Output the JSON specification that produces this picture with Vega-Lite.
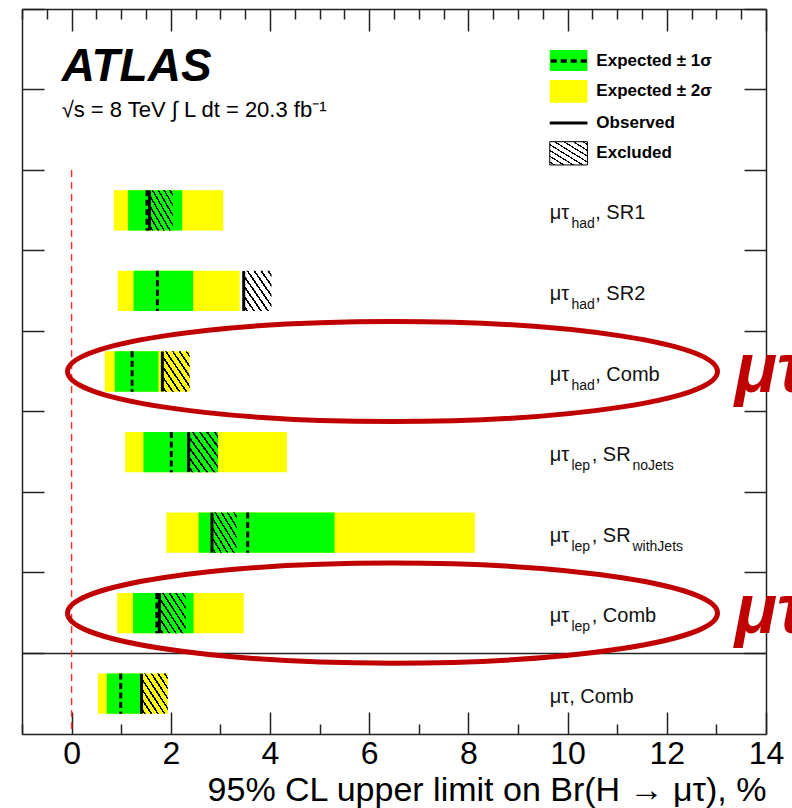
{
  "$schema": "https://vega.github.io/schema/vega-lite/v6.json",
  "width": 744,
  "height": 725,
  "autosize": {"type": "none"},
  "padding": {"left": 22, "top": 9, "right": 26, "bottom": 74},
  "background": "white",
  "config": {
    "font": "Liberation Sans",
    "view": {"stroke": null},
    "axis": {"domainColor": "#222", "domainWidth": 1.5, "tickColor": "#222", "tickWidth": 1.5, "grid": false, "labels": false}
  },
  "data": {
    "values": [
      {"channel": "SR1", "l1": "μτ", "s1": "had", "l2": ", SR1", "s2": "", "lo2": 0.85, "lo1": 1.14, "exp": 1.52, "obs": 1.57, "hi1": 2.23, "hi2": 3.06, "excl": 2.04},
      {"channel": "SR2", "l1": "μτ", "s1": "had", "l2": ", SR2", "s2": "", "lo2": 0.93, "lo1": 1.25, "exp": 1.73, "obs": 3.47, "hi1": 2.45, "hi2": 3.39, "excl": 4.03},
      {"channel": "hadComb", "l1": "μτ", "s1": "had", "l2": ", Comb", "s2": "", "lo2": 0.67, "lo1": 0.87, "exp": 1.22, "obs": 1.83, "hi1": 1.75, "hi2": 2.38, "excl": 2.38},
      {"channel": "noJets", "l1": "μτ", "s1": "lep", "l2": ", SR", "s2": "noJets", "lo2": 1.08, "lo1": 1.45, "exp": 2.01, "obs": 2.36, "hi1": 2.95, "hi2": 4.34, "excl": 2.95},
      {"channel": "withJets", "l1": "μτ", "s1": "lep", "l2": ", SR", "s2": "withJets", "lo2": 1.91, "lo1": 2.56, "exp": 3.55, "obs": 2.83, "hi1": 5.30, "hi2": 8.13, "excl": 3.33},
      {"channel": "lepComb", "l1": "μτ", "s1": "lep", "l2": ", Comb", "s2": "", "lo2": 0.92, "lo1": 1.24, "exp": 1.72, "obs": 1.77, "hi1": 2.46, "hi2": 3.47, "excl": 2.30},
      {"channel": "comb", "l1": "μτ, Comb", "s1": "", "l2": "", "s2": "", "lo2": 0.53, "lo1": 0.71, "exp": 0.99, "obs": 1.41, "hi1": 1.41, "hi2": 1.94, "excl": 1.94}
    ]
  },
  "layer": [
    {
      "layer": [
        {
          "mark": {"type": "bar", "color": "#ffff00", "height": {"band": 0.5}},
          "encoding": {
            "x": {
              "field": "lo2", "type": "quantitative",
              "scale": {"domain": [-1, 14], "nice": false, "zero": false},
              "axis": {
                "orient": "bottom",
                "values": [-1, -0.5, 0, 0.5, 1, 1.5, 2, 2.5, 3, 3.5, 4, 4.5, 5, 5.5, 6, 6.5, 7, 7.5, 8, 8.5, 9, 9.5, 10, 10.5, 11, 11.5, 12, 12.5, 13, 13.5, 14],
                "tickSize": {"condition": {"test": "datum.value % 2 === 0", "value": -22}, "value": -10},
                "labels": true,
                "labelExpr": "datum.value % 2 === 0 ? datum.label : ''",
                "labelFontSize": 32,
                "labelColor": "#000",
                "labelPadding": 26,
                "labelFlush": false,
                "labelOverlap": false,
                "title": "95% CL upper limit on Br(H → μτ), %",
                "titleFontSize": 34,
                "titleFontWeight": "normal",
                "titleColor": "#000",
                "titleAnchor": "end",
                "titleAlign": "right",
                "titleBaseline": "alphabetic",
                "titleY": 66
              }
            },
            "x2": {"field": "hi2"},
            "y": {
              "field": "channel", "type": "nominal",
              "scale": {"domain": ["top1", "top2", "SR1", "SR2", "hadComb", "noJets", "withJets", "lepComb", "comb"], "paddingInner": 0, "paddingOuter": 0},
              "axis": {"orient": "left", "bandPosition": 0, "tickSize": -22, "labels": false, "title": null}
            }
          }
        },
        {
          "mark": {"type": "bar", "color": "#00ff00", "height": {"band": 0.5}},
          "encoding": {
            "x": {"field": "lo1", "type": "quantitative"},
            "x2": {"field": "hi1"},
            "y": {"field": "channel", "type": "nominal"}
          }
        },
        {
          "mark": {
            "type": "bar", "height": {"band": 0.5},
            "fill": {
              "gradient": "linear", "x1": 0, "y1": 1, "x2": 1, "y2": 0,
              "stops": [
                {"offset": 0, "color": "rgba(0,0,0,0)"},
                {"offset": 0.0475, "color": "rgba(0,0,0,0)"}, {"offset": 0.0475, "color": "#000"}, {"offset": 0.0825, "color": "#000"}, {"offset": 0.0825, "color": "rgba(0,0,0,0)"},
                {"offset": 0.1725, "color": "rgba(0,0,0,0)"}, {"offset": 0.1725, "color": "#000"}, {"offset": 0.2075, "color": "#000"}, {"offset": 0.2075, "color": "rgba(0,0,0,0)"},
                {"offset": 0.2975, "color": "rgba(0,0,0,0)"}, {"offset": 0.2975, "color": "#000"}, {"offset": 0.3325, "color": "#000"}, {"offset": 0.3325, "color": "rgba(0,0,0,0)"},
                {"offset": 0.4225, "color": "rgba(0,0,0,0)"}, {"offset": 0.4225, "color": "#000"}, {"offset": 0.4575, "color": "#000"}, {"offset": 0.4575, "color": "rgba(0,0,0,0)"},
                {"offset": 0.5475, "color": "rgba(0,0,0,0)"}, {"offset": 0.5475, "color": "#000"}, {"offset": 0.5825, "color": "#000"}, {"offset": 0.5825, "color": "rgba(0,0,0,0)"},
                {"offset": 0.6725, "color": "rgba(0,0,0,0)"}, {"offset": 0.6725, "color": "#000"}, {"offset": 0.7075, "color": "#000"}, {"offset": 0.7075, "color": "rgba(0,0,0,0)"},
                {"offset": 0.7975, "color": "rgba(0,0,0,0)"}, {"offset": 0.7975, "color": "#000"}, {"offset": 0.8325, "color": "#000"}, {"offset": 0.8325, "color": "rgba(0,0,0,0)"},
                {"offset": 0.9225, "color": "rgba(0,0,0,0)"}, {"offset": 0.9225, "color": "#000"}, {"offset": 0.9575, "color": "#000"}, {"offset": 0.9575, "color": "rgba(0,0,0,0)"},
                {"offset": 1, "color": "rgba(0,0,0,0)"}
              ]
            }
          },
          "encoding": {
            "x": {"field": "obs", "type": "quantitative"},
            "x2": {"field": "excl"},
            "y": {"field": "channel", "type": "nominal"}
          }
        },
        {
          "mark": {"type": "rule", "color": "#000", "strokeWidth": 3, "strokeDash": [6, 3.5], "strokeCap": "butt"},
          "encoding": {
            "x": {"field": "exp", "type": "quantitative"},
            "y": {"field": "channel", "type": "nominal", "bandPosition": 0.25},
            "y2": {"field": "channel", "bandPosition": 0.75}
          }
        },
        {
          "mark": {"type": "tick", "color": "#000", "thickness": 3, "size": 40, "opacity": 1},
          "encoding": {
            "x": {"field": "obs", "type": "quantitative"},
            "y": {"field": "channel", "type": "nominal"}
          }
        },
        {
          "data": {"values": [{}]},
          "mark": {"type": "rule", "color": "#ff2a2a", "strokeWidth": 1.4, "strokeDash": [7, 5]},
          "encoding": {
            "x": {"datum": 0},
            "y": {"datum": "SR1", "bandPosition": 0},
            "y2": {"value": "height"}
          }
        },
        {
          "mark": {"type": "text", "align": "left", "baseline": "alphabetic", "dy": 9, "fontSize": 20, "color": "#111"},
          "encoding": {
            "x": {"datum": 9.64},
            "y": {"field": "channel", "type": "nominal"},
            "text": {"field": "l1"}
          }
        },
        {
          "mark": {"type": "text", "align": "left", "baseline": "alphabetic", "dx": 21.7, "dy": 18, "fontSize": 14, "color": "#111"},
          "encoding": {
            "x": {"datum": 9.64},
            "y": {"field": "channel", "type": "nominal"},
            "text": {"field": "s1"}
          }
        },
        {
          "transform": [{"filter": "datum.s1 === 'had'"}],
          "mark": {"type": "text", "align": "left", "baseline": "alphabetic", "dx": 45.5, "dy": 9, "fontSize": 20, "color": "#111"},
          "encoding": {
            "x": {"datum": 9.64},
            "y": {"field": "channel", "type": "nominal"},
            "text": {"field": "l2"}
          }
        },
        {
          "transform": [{"filter": "datum.s1 === 'lep'"}],
          "mark": {"type": "text", "align": "left", "baseline": "alphabetic", "dx": 42, "dy": 9, "fontSize": 20, "color": "#111"},
          "encoding": {
            "x": {"datum": 9.64},
            "y": {"field": "channel", "type": "nominal"},
            "text": {"field": "l2"}
          }
        },
        {
          "mark": {"type": "text", "align": "left", "baseline": "alphabetic", "dx": 82.7, "dy": 18, "fontSize": 14, "color": "#111"},
          "encoding": {
            "x": {"datum": 9.64},
            "y": {"field": "channel", "type": "nominal"},
            "text": {"field": "s2"}
          }
        },
        {
          "data": {"values": [{}]},
          "mark": {"type": "text", "text": "ATLAS", "fontSize": 46, "fontWeight": "bold", "fontStyle": "italic", "align": "left", "baseline": "alphabetic", "color": "#000"},
          "encoding": {"x": {"datum": -0.2}, "y": {"datum": "top1", "bandPosition": 0.894}}
        },
        {
          "data": {"values": [{}]},
          "mark": {"type": "text", "text": "√s = 8 TeV   ∫ L dt = 20.3 fb⁻¹", "fontSize": 22, "align": "left", "baseline": "alphabetic", "color": "#000"},
          "encoding": {"x": {"datum": -0.2}, "y": {"datum": "top2", "bandPosition": 0.341}}
        },
        {
          "data": {"values": [{}]},
          "mark": {"type": "rect", "color": "#00ff00"},
          "encoding": {
            "x": {"datum": 9.64}, "x2": {"datum": 10.4},
            "y": {"datum": "top1", "bandPosition": 0.509}, "y2": {"datum": "top1", "bandPosition": 0.77}
          }
        },
        {
          "data": {"values": [{}]},
          "mark": {"type": "rule", "color": "#000", "strokeWidth": 3.5, "strokeDash": [6, 4], "strokeCap": "butt"},
          "encoding": {
            "x": {"datum": 9.66}, "x2": {"datum": 10.4},
            "y": {"datum": "top1", "bandPosition": 0.645}
          }
        },
        {
          "data": {"values": [{}]},
          "mark": {"type": "rect", "color": "#ffff00"},
          "encoding": {
            "x": {"datum": 9.64}, "x2": {"datum": 10.4},
            "y": {"datum": "top1", "bandPosition": 0.881}, "y2": {"datum": "top2", "bandPosition": 0.164}
          }
        },
        {
          "data": {"values": [{}]},
          "mark": {"type": "rule", "color": "#000", "strokeWidth": 3},
          "encoding": {
            "x": {"datum": 9.64}, "x2": {"datum": 10.4},
            "y": {"datum": "top2", "bandPosition": 0.415}
          }
        },
        {
          "data": {"values": [{}]},
          "mark": {
            "type": "rect", "stroke": "#000", "strokeWidth": 1,
            "fill": {
              "gradient": "linear", "x1": 0, "y1": 1, "x2": 1, "y2": 0,
              "stops": [
                {"offset": 0, "color": "rgba(0,0,0,0)"},
                {"offset": 0.0475, "color": "rgba(0,0,0,0)"}, {"offset": 0.0475, "color": "#000"}, {"offset": 0.0775, "color": "#000"}, {"offset": 0.0775, "color": "rgba(0,0,0,0)"},
                {"offset": 0.1725, "color": "rgba(0,0,0,0)"}, {"offset": 0.1725, "color": "#000"}, {"offset": 0.2025, "color": "#000"}, {"offset": 0.2025, "color": "rgba(0,0,0,0)"},
                {"offset": 0.2975, "color": "rgba(0,0,0,0)"}, {"offset": 0.2975, "color": "#000"}, {"offset": 0.3275, "color": "#000"}, {"offset": 0.3275, "color": "rgba(0,0,0,0)"},
                {"offset": 0.4225, "color": "rgba(0,0,0,0)"}, {"offset": 0.4225, "color": "#000"}, {"offset": 0.4525, "color": "#000"}, {"offset": 0.4525, "color": "rgba(0,0,0,0)"},
                {"offset": 0.5475, "color": "rgba(0,0,0,0)"}, {"offset": 0.5475, "color": "#000"}, {"offset": 0.5775, "color": "#000"}, {"offset": 0.5775, "color": "rgba(0,0,0,0)"},
                {"offset": 0.6725, "color": "rgba(0,0,0,0)"}, {"offset": 0.6725, "color": "#000"}, {"offset": 0.7025, "color": "#000"}, {"offset": 0.7025, "color": "rgba(0,0,0,0)"},
                {"offset": 0.7975, "color": "rgba(0,0,0,0)"}, {"offset": 0.7975, "color": "#000"}, {"offset": 0.8275, "color": "#000"}, {"offset": 0.8275, "color": "rgba(0,0,0,0)"},
                {"offset": 0.9225, "color": "rgba(0,0,0,0)"}, {"offset": 0.9225, "color": "#000"}, {"offset": 0.9525, "color": "#000"}, {"offset": 0.9525, "color": "rgba(0,0,0,0)"},
                {"offset": 1, "color": "rgba(0,0,0,0)"}
              ]
            }
          },
          "encoding": {
            "x": {"datum": 9.64}, "x2": {"datum": 10.4},
            "y": {"datum": "top2", "bandPosition": 0.647}, "y2": {"datum": "top2", "bandPosition": 0.936}
          }
        },
        {
          "data": {"values": [{}]},
          "mark": {"type": "text", "text": "Expected ± 1σ", "fontSize": 17, "fontWeight": "bold", "align": "left", "baseline": "middle", "color": "#000"},
          "encoding": {"x": {"datum": 10.58}, "y": {"datum": "top1", "bandPosition": 0.645}}
        },
        {
          "data": {"values": [{}]},
          "mark": {"type": "text", "text": "Expected ± 2σ", "fontSize": 17, "fontWeight": "bold", "align": "left", "baseline": "middle", "color": "#000"},
          "encoding": {"x": {"datum": 10.58}, "y": {"datum": "top2", "bandPosition": 0.018}}
        },
        {
          "data": {"values": [{}]},
          "mark": {"type": "text", "text": "Observed", "fontSize": 17, "fontWeight": "bold", "align": "left", "baseline": "middle", "color": "#000"},
          "encoding": {"x": {"datum": 10.58}, "y": {"datum": "top2", "bandPosition": 0.415}}
        },
        {
          "data": {"values": [{}]},
          "mark": {"type": "text", "text": "Excluded", "fontSize": 17, "fontWeight": "bold", "align": "left", "baseline": "middle", "color": "#000"},
          "encoding": {"x": {"datum": 10.58}, "y": {"datum": "top2", "bandPosition": 0.787}}
        },
        {
          "transform": [{"filter": "datum.channel === 'hadComb' || datum.channel === 'lepComb'"}],
          "mark": {
            "type": "point",
            "shape": "M-1,0C-1,-0.085,-0.552,-0.154,0,-0.154C0.552,-0.154,1,-0.085,1,0C1,0.085,0.552,0.154,0,0.154C-0.552,0.154,-1,0.085,-1,0Z",
            "size": 422500, "filled": false, "stroke": "#c00000", "strokeWidth": 5, "opacity": 1
          },
          "encoding": {"x": {"datum": 6.47}, "y": {"field": "channel", "type": "nominal"}}
        },
        {
          "transform": [{"filter": "datum.channel === 'hadComb' || datum.channel === 'lepComb'"}],
          "mark": {"type": "text", "text": "μτ", "fontSize": 70, "fontWeight": "bold", "fontStyle": "italic", "color": "#c00000", "align": "left", "baseline": "alphabetic", "dy": 20},
          "encoding": {"x": {"datum": 13.37}, "y": {"field": "channel", "type": "nominal"}}
        }
      ]
    },
    {
      "mark": {"type": "tick", "opacity": 0},
      "encoding": {
        "x": {
          "field": "obs", "type": "quantitative",
          "axis": {
            "orient": "top",
            "values": [-1, -0.5, 0, 0.5, 1, 1.5, 2, 2.5, 3, 3.5, 4, 4.5, 5, 5.5, 6, 6.5, 7, 7.5, 8, 8.5, 9, 9.5, 10, 10.5, 11, 11.5, 12, 12.5, 13, 13.5, 14],
            "tickSize": {"condition": {"test": "datum.value % 2 === 0", "value": -22}, "value": -10},
            "labels": false,
            "title": null
          }
        },
        "y": {
          "field": "channel", "type": "nominal",
          "axis": {
            "orient": "right", "bandPosition": 0, "tickSize": -22, "labels": false, "title": null,
            "grid": true, "gridColor": "#222", "gridWidth": 1.5,
            "gridOpacity": {"condition": {"test": "datum.value === 'comb'", "value": 1}, "value": 0}
          }
        }
      }
    }
  ],
  "resolve": {"axis": {"x": "independent", "y": "independent"}}
}
